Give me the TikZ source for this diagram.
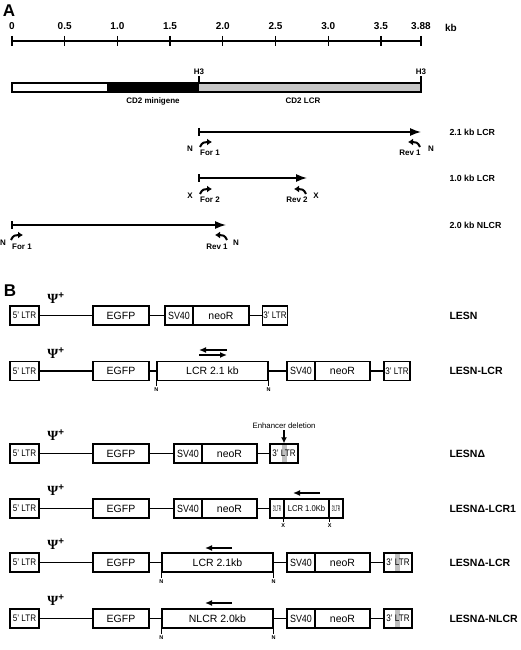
\documentclass[tikz,border=0pt]{standalone}
\usepackage{fontspec}
\setmainfont{Liberation Sans}
\newfontfamily\serifgr{Liberation Serif}
\usetikzlibrary{arrows.meta}

\newcommand{\psiplus}{{\serifgr\bfseries\char"03A8}\textsuperscript{\bfseries +}}
\newcommand{\ltrtxt}[1]{\scalebox{0.85}[1]{#1}}

\tikzset{
  gbox/.style={draw, line width=1.4pt, minimum height=19pt, inner sep=0pt, font=\fontsize{10.5}{10.5}\selectfont},
  ltr/.style={gbox, font=\fontsize{9.5}{9.5}\selectfont},
  link/.style={line width=1.3pt},
  rowlbl/.style={anchor=west, font=\bfseries\fontsize{10.5}{10.5}\selectfont},
  fraglbl/.style={anchor=west, font=\bfseries\fontsize{8.8}{8.8}\selectfont},
  sm/.style={font=\bfseries\fontsize{8}{8}\selectfont, inner sep=0pt},
  tiny/.style={font=\bfseries\fontsize{5.5}{5.5}\selectfont, inner sep=1pt},
  psi/.style={font=\fontsize{14}{14}\selectfont},
  kbarrow/.style={line width=1.4pt, -{Latex[length=11pt,width=8pt]}},
  dirarrow/.style={line width=1.3pt, -{Latex[length=7pt,width=6pt]}},
  prim/.style={line width=2pt, -{Latex[length=5pt,width=7pt]}},
  stripe/.style={fill=gray!50},
}

\begin{document}
\begin{tikzpicture}[x=1pt,y=-1pt]
  \useasboundingbox (0,0) rectangle (520,650);

  \node[font=\bfseries\fontsize{17}{17}\selectfont] (pa) at (9,11) {A};
  \draw[link] (12,41) -- (421,41);
  \foreach \v/\t in {0/0, 0.5/0.5, 1/1.0, 1.5/1.5, 2/2.0, 2.5/2.5, 3/3.0, 3.5/3.5, 3.88/3.88}
    \draw[link] ({12+105.4*\v},36) -- ++(0,10) node[pos=0, above=2pt, font=\bfseries\fontsize{10}{10}\selectfont] {\t};
  \node[font=\bfseries\fontsize{10}{10}\selectfont] (kb) at (451,28) {kb};

  \fill[white] (12,83) rectangle (107,92);
  \fill[black] (107,83) rectangle (199,92);
  \fill[gray!45] (199,83) rectangle (421,92);
  \draw[link] (12,83) rectangle (421,92);
  \draw[link] (199,83) -- (199,76) node[above=1pt, sm] {H3};
  \draw[link] (421,83) -- (421,76) node[above=1pt, sm] {H3};
  \node[sm] (mini) at (153,101) {CD2 minigene};
  \node[sm] (lcr) at (303,101) {CD2 LCR};

  \coordinate (s21) at (199,132);
  \coordinate (e21) at (421,132);
  \draw[line width=2.5pt] (199,128) -- (199,136);
  \draw[kbarrow] (s21) -- (e21);
  \node[fraglbl] (l21) at (446,132) {2.1 kb LCR};
  \draw[prim] (200,147) .. controls (202,142) and (205,142) .. (212,142);
  \draw[prim] (420,147) .. controls (418,142) and (415,142) .. (408,142);
  \node[sm] at (190,149) {N};
  \node[sm] at (210,153) {For 1};
  \node[sm] at (410,153) {Rev 1};
  \node[sm] at (431,149) {N};

  \coordinate (s10) at (199,178);
  \coordinate (e10) at (307,178);
  \draw[line width=2.5pt] (199,174) -- (199,182);
  \draw[kbarrow] (s10) -- (e10);
  \node[fraglbl] (l10) at (446,178) {1.0 kb LCR};
  \draw[prim] (200,194) .. controls (202,189) and (205,189) .. (212,189);
  \draw[prim] (306,194) .. controls (304,189) and (301,189) .. (294,189);
  \node[sm] at (190,196) {X};
  \node[sm] at (210,200) {For 2};
  \node[sm] at (297,200) {Rev 2};
  \node[sm] at (316,196) {X};

  \coordinate (s20) at (12,225);
  \coordinate (e20) at (226,225);
  \draw[line width=2.5pt] (12,221) -- (12,229);
  \draw[kbarrow] (s20) -- (e20);
  \node[fraglbl] (l20) at (446,225) {2.0 kb NLCR};
  \draw[prim] (11,240) .. controls (13,235) and (16,235) .. (23,235);
  \draw[prim] (227,240) .. controls (225,235) and (222,235) .. (215,235);
  \node[sm] at (3,243) {N};
  \node[sm] at (22,247) {For 1};
  \node[sm] at (217,247) {Rev 1};
  \node[sm] at (236,243) {N};

  \node[font=\bfseries\fontsize{17}{17}\selectfont] (pb) at (10,291) {B};

  \node[ltr, minimum width=29pt] (lA) at (24.5,315.5) {\ltrtxt{5' LTR}};
  \node[gbox, minimum width=56pt] (eA) at (121,315.5) {EGFP};
  \node[gbox, minimum width=28pt] (sA) at (179,315.5) {\ltrtxt{SV40}};
  \node[gbox, minimum width=56pt] (nA) at (221,315.5) {neoR};
  \node[ltr, minimum width=25pt] (rA) at (275,315.5) {\ltrtxt{3' LTR}};
  \draw[link] (lA) -- (eA) (eA) -- (sA) (nA) -- (rA);
  \node[psi] at (56,298) {\psiplus};
  \node[rowlbl] at (446,315.5) {LESN};

  \node[ltr, minimum width=29pt] (lB) at (24.5,371) {\ltrtxt{5' LTR}};
  \node[gbox, minimum width=56pt] (eB) at (121,371) {EGFP};
  \node[gbox, minimum width=111pt] (cB) at (212.5,371) {LCR 2.1 kb};
  \node[gbox, minimum width=28pt] (sB) at (301,371) {\ltrtxt{SV40}};
  \node[gbox, minimum width=55pt] (nB) at (342.5,371) {neoR};
  \node[ltr, minimum width=26pt] (rB) at (397,371) {\ltrtxt{3' LTR}};
  \draw[link] (lB) -- (eB) (eB) -- (cB) (cB) -- (sB) (nB) -- (rB);
  \draw[link] (cB.south west) -- ++(0,5) node[tiny, below] {N};
  \draw[link] (cB.south east) -- ++(0,5) node[tiny, below] {N};
  \draw[dirarrow] (227,350) -- (199,350);
  \draw[dirarrow] (199,355) -- (227,355);
  \node[psi] at (56,353) {\psiplus};
  \node[rowlbl] at (446,371) {LESN-LCR};

  \fill[stripe] (282,444) rectangle (286.5,463);
  \node[ltr, minimum width=29pt] (lC) at (24.5,453.5) {\ltrtxt{5' LTR}};
  \node[gbox, minimum width=56pt] (eC) at (121,453.5) {EGFP};
  \node[gbox, minimum width=28pt] (sC) at (188,453.5) {\ltrtxt{SV40}};
  \node[gbox, minimum width=55pt] (nC) at (229.5,453.5) {neoR};
  \node[ltr, minimum width=28pt] (rC) at (284,453.5) {\ltrtxt{3' LTR}};
  \draw[link] (lC) -- (eC) (eC) -- (sC) (nC) -- (rC);
  \node[font=\fontsize{7.8}{7.8}\selectfont, inner sep=1pt] (enh) at (284,426) {Enhancer deletion};
  \draw[line width=1.3pt, -{Latex[length=6pt,width=6pt]}] (enh) -- (rC.north);
  \node[psi] at (56,435) {\psiplus};
  \node[rowlbl] at (446,453.5) {LESN\char"0394};

  \node[ltr, minimum width=29pt] (lD) at (24.5,508.5) {\ltrtxt{5' LTR}};
  \node[gbox, minimum width=56pt] (eD) at (121,508.5) {EGFP};
  \node[gbox, minimum width=28pt] (sD) at (188,508.5) {\ltrtxt{SV40}};
  \node[gbox, minimum width=55pt] (nD) at (229.5,508.5) {neoR};
  \node[gbox, minimum width=14pt, font=\fontsize{8}{8}\selectfont] (tD) at (277,508.5) {\scalebox{0.4}[1]{3'LTR}};
  \node[gbox, minimum width=45pt, font=\fontsize{8.5}{8.5}\selectfont] (cD) at (306.5,508.5) {\scalebox{0.9}[1]{LCR 1.0Kb}};
  \node[gbox, minimum width=14pt, font=\fontsize{8}{8}\selectfont] (uD) at (336,508.5) {\scalebox{0.4}[1]{3'LTR}};
  \draw[link] (lD) -- (eD) (eD) -- (sD) (nD) -- (tD);
  \draw[link] (cD.south west) -- ++(0,3) node[tiny, below] {X};
  \draw[link] (cD.south east) -- ++(0,3) node[tiny, below] {X};
  \draw[dirarrow] (320,493) -- (293,493);
  \node[psi] at (56,490) {\psiplus};
  \node[rowlbl] at (446,508.5) {LESN\char"0394-LCR1};

  \fill[stripe] (395,553) rectangle (400,572);
  \node[ltr, minimum width=29pt] (lE) at (24.5,562.5) {\ltrtxt{5' LTR}};
  \node[gbox, minimum width=56pt] (eE) at (121,562.5) {EGFP};
  \node[gbox, minimum width=111pt] (cE) at (217.5,562.5) {LCR 2.1kb};
  \node[gbox, minimum width=28pt] (sE) at (301,562.5) {\ltrtxt{SV40}};
  \node[gbox, minimum width=55pt] (nE) at (342.5,562.5) {neoR};
  \node[ltr, minimum width=28pt] (rE) at (398,562.5) {\ltrtxt{3' LTR}};
  \draw[link] (lE) -- (eE) (eE) -- (cE) (cE) -- (sE) (nE) -- (rE);
  \draw[link] (cE.south west) -- ++(0,5) node[tiny, below] {N};
  \draw[link] (cE.south east) -- ++(0,5) node[tiny, below] {N};
  \draw[dirarrow] (232,548) -- (205,548);
  \node[psi] at (56,544) {\psiplus};
  \node[rowlbl] at (446,562.5) {LESN\char"0394-LCR};

  \fill[stripe] (395,609) rectangle (400,628);
  \node[ltr, minimum width=29pt] (lF) at (24.5,618.5) {\ltrtxt{5' LTR}};
  \node[gbox, minimum width=56pt] (eF) at (121,618.5) {EGFP};
  \node[gbox, minimum width=111pt] (cF) at (217.5,618.5) {NLCR 2.0kb};
  \node[gbox, minimum width=28pt] (sF) at (301,618.5) {\ltrtxt{SV40}};
  \node[gbox, minimum width=55pt] (nF) at (342.5,618.5) {neoR};
  \node[ltr, minimum width=28pt] (rF) at (398,618.5) {\ltrtxt{3' LTR}};
  \draw[link] (lF) -- (eF) (eF) -- (cF) (cF) -- (sF) (nF) -- (rF);
  \draw[link] (cF.south west) -- ++(0,5) node[tiny, below] {N};
  \draw[link] (cF.south east) -- ++(0,5) node[tiny, below] {N};
  \draw[dirarrow] (232,603) -- (205,603);
  \node[psi] at (56,600) {\psiplus};
  \node[rowlbl] at (446,618.5) {LESN\char"0394-NLCR};
\end{tikzpicture}
\end{document}
